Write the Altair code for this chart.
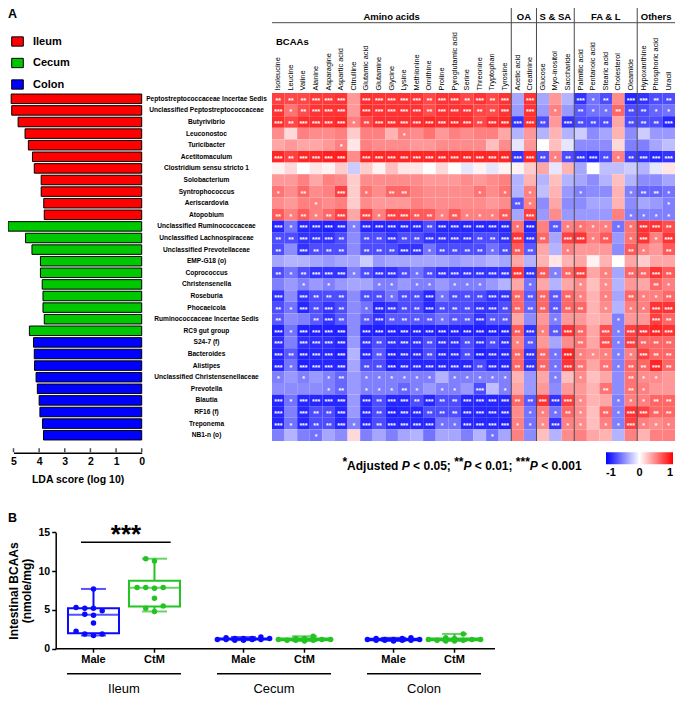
import altair as alt
import numpy as np
import pandas as pd

FONT = "Liberation Sans"
W, H = 670, 686

# ---------------- data : panel A ----------------
genera = [
    "Peptostreptococcaceae Incertae Sedis", "Unclassified Peptostreptococcaceae", "Butyrivibrio",
    "Leuconostoc", "Turicibacter", "Acetitomaculum", "Clostridium sensu stricto 1", "Solobacterium",
    "Syntrophococcus", "Aeriscardovia", "Atopobium",
    "Unclassified Ruminococcaceae", "Unclassified Lachnospiraceae", "Unclassified Prevotellaceae",
    "EMP-G18 (o)", "Coprococcus", "Christensenella", "Roseburia", "Phocaeicola",
    "Ruminococcaceae Incertae Sedis", "RC9 gut group",
    "S24-7 (f)", "Bacteroides", "Alistipes", "Unclassified Christensenellaceae", "Prevotella",
    "Blautia", "RF16 (f)", "Treponema", "NB1-n (o)",
]
genus_site = ["Ileum"] * 11 + ["Cecum"] * 10 + ["Colon"] * 9
lda_score = [5.09, 5.07, 4.82, 4.55, 4.42, 4.26, 4.19, 3.92, 3.92, 3.82, 3.80,
             5.21, 4.53, 4.28, 3.95, 3.95, 3.88, 3.85, 3.85, 3.80, 4.38,
             4.22, 4.19, 4.18, 4.12, 4.07, 4.00, 3.97, 3.87, 3.83]
sites = ["Ileum", "Cecum", "Colon"]
site_colors = ["#ff0000", "#00c800", "#0000ff"]
lda_ticks = [0, 1, 2, 3, 4, 5]

metabolites = [
    "Isoleucine", "Leucine", "Valine", "Alanine", "Asparagine", "Aspartic acid", "Citrulline",
    "Glutamic acid", "Glutamine", "Glycine", "Lysine", "Methionine", "Ornithine", "Proline",
    "Pyroglutamic acid", "Serine", "Threonine", "Tryptophan", "Tyrosine",
    "Acetic acid", "Creatinine",
    "Glucose", "Myo-inositol", "Saccharide",
    "Palmitic acid", "Pentanoic acid", "Stearic acid", "Cholesterol", "Oleamide",
    "Hypoxanthine", "Phosphoric acid", "Uracil",
]
group_names = ["Amino acids", "OA", "S & SA", "FA & L", "Others"]
group_sizes = [19, 2, 3, 5, 3]

# correlation coefficients x100, one row per genus (32 metabolites)
corr_x100 = [
    [75,72,72,78,78,80,40,82,80,80,80,80,72,80,80,72,80,72,80, -35,80,-35,40,-30,-80,-55,-70,45,-85,-80,-70,-70],
    [80,55,70,80,80,80,40,82,80,80,80,80,70,80,80,80,72,70,80, -40,80,-40,50,-40,-65,-55,-55,60,-70,-70,-60,-55],
    [82,72,82,82,82,85,50,72,82,82,82,82,85,82,85,82,72,82,85, -80,82,-70,40,-80,-70,-70,-70,35,-70,-70,-70,-85],
    [45,15,50,45,45,50,20,50,50,30,50,45,55,40,50,45,50,50,35, -30,40,-30,30,-30,-20,-45,-35,30,-45,-20,-40,-40],
    [35,40,35,35,40,50,10,50,45,45,45,40,40,45,45,45,45,25,45, -10,40,0,25,-10,-45,-45,-45,15,-50,-50,-35,-25],
    [85,75,85,85,88,88,45,85,85,85,85,85,85,85,85,85,85,85,85, -80,85,-70,50,-70,-80,-85,-70,50,-75,-80,-85,-80],
    [5,15,0,10,5,20,-20,20,5,25,10,10,0,15,0,-10,5,-10,5, 5,20,35,-10,30,-35,0,-25,-25,-20,-30,-10,10],
    [40,40,50,35,50,45,20,45,45,45,45,45,40,40,40,45,40,45,50, -30,30,-30,25,-30,-35,-45,-30,25,-30,-45,-45,-35],
    [55,45,60,45,50,75,20,55,45,60,60,50,45,45,45,45,55,45,55, -30,50,-25,30,-40,-50,-45,-45,30,-50,-60,-60,-55],
    [45,40,50,50,45,50,20,45,40,40,40,50,45,45,45,45,45,40,45, -65,50,-45,35,-45,-45,-35,-35,30,-45,-35,-40,-50],
    [65,50,65,50,60,75,35,75,50,75,75,65,65,50,65,50,50,50,65, -35,75,-40,45,-40,-40,-40,-40,50,-50,-50,-50,-50],
    [-85,-55,-85,-85,-88,-85,-50,-85,-85,-85,-85,-85,-70,-85,-85,-85,-85,-85,-85, 55,-85,50,-65,50,55,50,50,-55,55,80,80,70],
    [-70,-70,-80,-80,-80,-70,-45,-70,-70,-80,-70,-70,-80,-80,-80,-80,-70,-70,-80, 80,-80,60,-35,75,80,50,65,-40,55,80,50,80],
    [-70,-45,-80,-70,-70,-70,-45,-70,-70,-70,-80,-80,-55,-70,-70,-70,-70,-55,-70, 65,-65,35,-30,50,40,40,40,-45,65,50,40,65],
    [-35,-30,-30,-35,-40,-35,-35,-20,-40,-35,-35,-35,-35,-35,-40,-35,-35,-30,-35, 35,-30,30,10,30,35,5,30,0,35,20,35,35],
    [-70,-55,-70,-80,-80,-80,-50,-70,-80,-80,-70,-55,-70,-80,-80,-80,-80,-80,-80, 80,-80,65,-50,60,75,35,50,-35,60,60,80,65],
    [-50,-40,-50,-40,-50,-40,-35,-35,-50,-50,-40,-50,-50,-40,-50,-50,-50,-40,-30, 35,-55,35,-30,35,45,25,45,-30,40,35,60,50],
    [-80,-45,-80,-70,-70,-70,-45,-70,-70,-55,-70,-70,-85,-55,-70,-70,-70,-80,-80, 60,-65,60,-65,60,50,30,50,-35,60,50,50,60],
    [-70,-55,-85,-70,-80,-70,-45,-55,-85,-80,-70,-70,-85,-70,-70,-70,-80,-80,-70, 60,-60,60,-65,60,60,30,45,-30,50,50,80,80],
    [-65,-45,-50,-65,-80,-65,-45,-65,-80,-65,-65,-65,-65,-55,-65,-65,-80,-65,-65, 35,-45,40,-50,40,40,30,35,-50,40,40,75,60],
    [-88,-55,-88,-88,-88,-88,-45,-88,-88,-88,-88,-88,-88,-88,-88,-88,-88,-88,-88, 65,-80,50,-65,80,60,35,70,-50,75,80,85,80],
    [-82,-50,-82,-82,-82,-85,-40,-82,-70,-82,-82,-82,-70,-82,-82,-70,-82,-70,-82, 50,-65,40,-35,45,55,35,70,-50,75,60,60,60],
    [-85,-65,-88,-85,-85,-88,-30,-85,-65,-88,-85,-85,-70,-85,-85,-70,-88,-85,-85, 60,-80,60,-55,85,50,45,50,-50,50,75,60,60],
    [-85,-55,-88,-85,-85,-85,-35,-70,-70,-88,-85,-85,-85,-85,-85,-85,-70,-85,-85, 60,-80,60,-55,80,55,35,55,-50,60,60,85,60],
    [-50,-40,-50,-40,-50,-60,-40,-50,-50,-50,-50,-50,-50,-30,-50,-50,-50,-50,-50, 30,-40,35,-50,25,45,25,35,-45,55,45,45,40],
    [-45,-45,-45,-45,-50,-60,-40,-50,-50,-50,-60,-50,-40,-50,-50,-40,-70,-25,-50, 35,-40,40,-45,40,40,30,55,-45,55,50,40,40],
    [-85,-55,-85,-85,-85,-85,-40,-85,-70,-85,-85,-70,-85,-70,-70,-85,-85,-85,-85, 60,-65,80,-80,75,45,30,35,-50,50,50,60,60],
    [-85,-50,-85,-70,-70,-85,-40,-85,-70,-88,-85,-85,-70,-70,-70,-85,-85,-85,-85, 45,-55,50,-55,60,45,25,60,-50,80,75,60,60],
    [-85,-55,-85,-70,-70,-85,-50,-85,-70,-85,-85,-85,-85,-55,-55,-85,-85,-85,-88, 50,-55,45,-80,50,45,25,50,-50,75,50,45,50],
    [-50,-30,-50,-55,-35,-45,15,-50,-35,-50,-35,-30,-55,-35,-35,-50,-30,-55,-35, 50,-45,25,-30,45,50,35,30,-30,50,30,50,50],
]
# number of significance stars per cell (0-3)
star_codes = [
    "2223330333332332323" + "0300031203322",
    "3123330333332333223" + "0301021122211",
    "3233331233333333233" + "3320322202223",
    "0000000000100000000" + "0000000000000",
    "0000010000000000000" + "0000000000000",
    "3233330333333333333" + "3321233212333",
    "0000000000000000000" + "0000000000000",
    "0000000000000000000" + "0000000000000",
    "1020030102200000101" + "0100010001221",
    "0001000000000000000" + "2100000000001",
    "2121230313322121112" + "0300000001111",
    "3133331333332333333" + "1302111111332",
    "2233320223223333223" + "3320331201313",
    "2032220222331222212" + "2200100002102",
    "0000000000000000000" + "0000000000000",
    "2123331233212333333" + "3321230102232",
    "0010100011011011100" + "0100010100021",
    "3032220221223122233" + "2222210102112",
    "2132320133223222332" + "2222220101133",
    "2002320232222122322" + "0001000010032",
    "3133330333333333333" + "2312320313333",
    "3033330323332332323" + "1200020313222",
    "3233330323332332333" + "2321311111322",
    "3133330223333333233" + "2321320212232",
    "1010120111111011111" + "0001010002110",
    "0000120111210110301" + "0000000202100",
    "3133330323323223333" + "2233310011122",
    "3032230323332223333" + "0111210213322",
    "3132231323333113333" + "1113110113111",
    "0001000000000000010" + "0000000000000",
]

# ---------------- data : panel B ----------------
sexes = ["Male", "CtM"]
sex_colors = ["#0a0aff", "#22c322"]
ileum_male = [7.7, 5.2, 5.2, 4.9, 5.3, 4.3, 4.45, 3.3, 2.25, 1.9, 1.9, 1.7]
ileum_ctm = [11.6, 11.3, 7.9, 7.8, 7.9, 7.9, 6.5, 5.5, 5.2, 4.8]
cecum_male = [1.2, 1.3, 1.1, 1.4, 1.2, 1.3, 1.5, 1.2, 1.3, 1.1, 1.2, 1.3]
cecum_ctm = [1.1, 1.2, 1.0, 1.3, 1.2, 1.6, 1.1, 1.2, 1.3, 1.1]
colon_male = [1.1, 1.2, 1.3, 1.1, 1.4, 1.2, 1.1, 1.2, 1.3, 1.0, 1.2, 1.1]
colon_ctm = [1.0, 1.1, 1.2, 1.9, 1.3, 1.1, 1.2, 1.4, 1.0, 1.2]
bcaa_ticks = [0, 5, 10, 15]

# ---------------- layout constants (pixels inside the single view) ----------------
HX = (264, 667)        # heatmap x extent
RY = (85, 433)         # rows extent (bars + heatmap)
LDA_X = (133.7, 5.5)   # x of LDA = 0 and LDA = 5
LDA_AX_Y = 444.7
BX = (55, 477)         # panel B category extent
BY = (640.7, 524.3)    # panel B y of 0 and 15
B_AX_X = 47.7
N_SLOTS = 7
LINE = "#4a4a4a"

one = pd.DataFrame({"k": [0]})


def text_at(text, x, y, size, weight="bold", align="left", baseline="alphabetic", style="normal"):
    return alt.Chart(one).mark_text(
        text=text, fontSize=size, fontWeight=weight, align=align, baseline=baseline,
        fontStyle=style, color="black", font=FONT,
    ).encode(x=alt.value(x), y=alt.value(y))


def rule_at(x1, x2, y1, y2, width=1, color="black"):
    return alt.Chart(one).mark_rule(strokeWidth=width, color=color).encode(
        x=alt.value(x1), x2=alt.value(x2), y=alt.value(y1), y2=alt.value(y2))


# ---------------- LDA bar chart ----------------
bar_df = pd.DataFrame({"genus": genera, "site": genus_site, "lda": lda_score})
x_lda_scale = alt.Scale(domain=[0, 5], range=list(LDA_X), nice=False, zero=False)
x_lda_axis = alt.Axis(
    orient="bottom", offset=LDA_AX_Y - H, values=lda_ticks, format="d", tickSize=0, ticks=False,
    labelPadding=4, labelFontSize=10.5, labelFontWeight="bold", labelColor="black", labelFlush=False,
    domainColor="black", domainWidth=1.5, grid=False,
    title="LDA score (log 10)", titleFontSize=10.5, titleFontWeight="bold", titleColor="black", titlePadding=7,
)
y_bar_scale = alt.Scale(domain=genera, range=list(RY), paddingInner=0.18, paddingOuter=0.09)
y_bar_axis = alt.Axis(
    orient="left", offset=-198, labelAlign="center", labelBaseline="middle", labelPadding=0,
    ticks=False, tickSize=0, domain=False, labelFontSize=6.6, labelFontWeight="bold",
    labelColor="black", labelLimit=400, labelOverlap=False, title=None,
)
site_legend = alt.Legend(
    orient="none", legendX=3, legendY=27, title=None, direction="vertical",
    symbolType="M-1,-0.8H1V0.8H-1Z", symbolSize=135, symbolStrokeColor="black",
    symbolStrokeWidth=1, symbolOpacity=1, labelFontSize=11, labelFontWeight="bold",
    labelColor="black", labelOffset=9, rowPadding=6.5, padding=0,
)
bars = alt.Chart(bar_df).mark_bar(stroke="black", strokeWidth=1, opacity=1).encode(
    x=alt.X("lda:Q", scale=x_lda_scale, axis=x_lda_axis),
    y=alt.Y("genus:N", scale=y_bar_scale, axis=y_bar_axis),
    color=alt.Color("site:N", scale=alt.Scale(domain=sites, range=site_colors), legend=site_legend),
)
lda_tick_marks = alt.Chart(pd.DataFrame({"lda": lda_ticks})).mark_tick(
    orient="vertical", size=4, thickness=1.5, color="black"
).encode(
    x=alt.X("lda:Q", scale=x_lda_scale, axis=x_lda_axis),
    y=alt.value(LDA_AX_Y - 2.5),
)
bar_layer = alt.layer(bars, lda_tick_marks)

# ---------------- heatmap ----------------
rows = []
for i, g in enumerate(genera):
    codes = star_codes[i].ljust(32, "0")
    for j, m in enumerate(metabolites):
        rows.append({"genus": g, "metabolite": m, "r": corr_x100[i][j] / 100.0,
                     "stars": "*" * int(codes[j])})
heat_df = pd.DataFrame(rows)

x_heat_scale = alt.Scale(domain=metabolites, range=list(HX), paddingInner=0, paddingOuter=0)
x_heat_axis = alt.Axis(
    orient="top", offset=-RY[0], labelAngle=-90, labelAlign="left", labelBaseline="middle",
    labelPadding=3, ticks=False, tickSize=0, domain=False, labelFontSize=7.4, labelColor="black",
    labelOverlap=False, labelLimit=200, title=None,
)
y_heat_scale = alt.Scale(domain=genera, range=list(RY), paddingInner=0, paddingOuter=0)
heat_legend = alt.Legend(
    orient="none", legendX=598, legendY=444.3, direction="horizontal", gradientLength=67,
    gradientThickness=12, values=[-1, 0, 1], title=None, labelFontSize=11, labelFontWeight="bold",
    labelColor="black", labelOffset=3, gradientStrokeWidth=0, padding=0,
    labelExpr="'' + datum.value",
)
hx = lambda **kw: alt.X("metabolite:N", scale=x_heat_scale, axis=x_heat_axis, **kw)
hy = alt.Y("genus:N", scale=y_heat_scale, axis=None)

cells = alt.Chart(heat_df).mark_rect().encode(
    x=hx(), y=hy,
    color=alt.Color("r:Q", scale=alt.Scale(domain=[-1, 0, 1], range=["#0000ff", "#ffffff", "#ff0000"],
                                           interpolate="rgb"), legend=heat_legend),
)
star_text = alt.Chart(heat_df).transform_filter("datum.stars != ''").mark_text(
    color="white", fontSize=7, fontWeight="bold", baseline="middle", dy=2, font=FONT
).encode(x=hx(), y=hy, text="stars:N")

starts = np.cumsum([0] + group_sizes[:-1])
sep_df = pd.DataFrame({"metabolite": [metabolites[s] for s in starts[1:]]})
separators = alt.Chart(sep_df).mark_rule(color=LINE, strokeWidth=1).encode(
    x=hx(bandPosition=0), y=alt.value(0), y2=alt.value(RY[1]))
title_df = pd.DataFrame({
    "metabolite": [metabolites[s + n // 2] for s, n in zip(starts, group_sizes)],
    "group": group_names,
    "odd": [n % 2 == 1 for n in group_sizes],
})
titles_odd = alt.Chart(title_df[title_df["odd"]]).mark_text(
    fontSize=9.5, fontWeight="bold", baseline="middle", color="black", font=FONT
).encode(x=hx(bandPosition=0.5), y=alt.value(8.5), text="group:N")
titles_even = alt.Chart(title_df[~title_df["odd"]]).mark_text(
    fontSize=9.5, fontWeight="bold", baseline="middle", color="black", font=FONT
).encode(x=hx(bandPosition=0), y=alt.value(8.5), text="group:N")
group_line = alt.Chart(one).mark_rule(color=LINE, strokeWidth=1).encode(
    x=alt.value(HX[0]), x2=alt.value(HX[1]), y=alt.value(14.7))
bcaa_df = pd.DataFrame({"metabolite": [metabolites[0]], "label": ["BCAAs"]})
bcaa_label = alt.Chart(bcaa_df).mark_text(
    fontSize=9.5, fontWeight="bold", align="left", baseline="middle", dx=4, color="black", font=FONT
).encode(x=hx(bandPosition=0), y=alt.value(33.7), text="label:N")

heat_layer = alt.layer(cells, star_text, separators, group_line, titles_odd, titles_even, bcaa_label)

# ---------------- significance note ----------------
EMW = {"*": 0.389, "A": 0.722, "d": 0.611, "j": 0.278, "u": 0.611, "s": 0.556, "t": 0.333,
       "e": 0.556, " ": 0.278, "P": 0.667, "<": 0.584, "0": 0.556, ".": 0.278, "5": 0.556,
       ";": 0.333, "1": 0.556}
NOTE_SIZE = 12
segments = [("*", True, False), ("Adjusted ", False, False), ("P", False, True), (" < 0.05; ", False, False),
            ("**", True, False), ("P", False, True), (" < 0.01; ", False, False),
            ("***", True, False), ("P", False, True), (" < 0.001", False, False)]
seg_w = [sum(EMW.get(c, 0.556) for c in s) * NOTE_SIZE for s, _, _ in segments]
note_x = 454 - sum(seg_w) / 2
note_layers = []
for (s, sup, ital), w in zip(segments, seg_w):
    lead = (len(s) - len(s.lstrip())) * EMW[" "] * NOTE_SIZE
    note_layers.append(text_at(s.strip(), note_x + lead, 458.3 if sup else 461.7, NOTE_SIZE,
                               style="italic" if ital else "normal"))
    note_x += w

# ---------------- panel B ----------------
def swarm_slots(vals, px_per_unit=7.76, min_gap=5.5):
    order = [3, 2, 4, 1, 5, 0, 6]
    placed, slots = [], [0] * len(vals)
    for idx in sorted(range(len(vals)), key=lambda k: vals[k]):
        v = vals[idx]
        best, best_c = None, None
        for s in order:
            c = sum(1 for ps, pv in placed if ps == s and abs(pv - v) * px_per_unit < min_gap)
            if c == 0:
                best = s
                break
            if best_c is None or c < best_c:
                best, best_c = s, c
        placed.append((best, v))
        slots[idx] = best
    return slots


groups_b = [("Ileum", "Male", ileum_male), ("Ileum", "CtM", ileum_ctm),
            ("Cecum", "Male", cecum_male), ("Cecum", "CtM", cecum_ctm),
            ("Colon", "Male", colon_male), ("Colon", "CtM", colon_ctm)]
pt_rows, st_rows = [], []
for site, sex, vals in groups_b:
    for v, k in zip(vals, swarm_slots(vals)):
        pt_rows.append({"site": site, "sex": sex, "value": v, "slot": f"{sex}{k}"})
    a = np.asarray(vals, float)
    q1, med, q3 = np.percentile(a, [25, 50, 75], method="weibull")
    st_rows.append({"site": site, "sex": sex, "lo": a.min(), "q1": q1, "med": med, "q3": q3,
                    "hi": a.max(), "center": f"{sex}{N_SLOTS // 2}"})
pts_df = pd.DataFrame(pt_rows)
stat_df = pd.DataFrame(st_rows)

xB_scale = alt.Scale(domain=sites, range=list(BX), paddingInner=0.187, paddingOuter=0)
xo_scale = alt.Scale(domain=[f"{s}{k}" for s in sexes for k in range(N_SLOTS)],
                     paddingInner=0, paddingOuter=0)
yB_scale = alt.Scale(domain=[0, 15], range=list(BY), nice=False, zero=True)
yB_axis = alt.Axis(
    orient="left", offset=-B_AX_X, values=bcaa_ticks, tickSize=4, tickWidth=1.5, tickColor="black",
    domainColor="black", domainWidth=1.5, labelFontSize=10.5, labelFontWeight="bold",
    labelColor="black", labelPadding=2, grid=False,
    title=["Intestinal BCAAs", "(nmole/mg)"], titleFontSize=12, titleFontWeight="bold",
    titleColor="black", titlePadding=5, titleLineHeight=12.5,
)
sex_scale = alt.Scale(domain=sexes, range=sex_colors)
xB = alt.X("site:N", scale=xB_scale, axis=None)
xo_c = alt.XOffset("center:N", scale=xo_scale)
col = alt.Color("sex:N", scale=sex_scale, legend=None)


def yq(f):
    return alt.Y(f"{f}:Q", scale=yB_scale, axis=yB_axis)


whisk = alt.Chart(stat_df).mark_rule(strokeWidth=2).encode(x=xB, xOffset=xo_c, y=yq("lo"), y2="hi", color=col)
box = alt.Chart(stat_df).mark_bar(fill="white", strokeWidth=2, size=51).encode(
    x=xB, xOffset=xo_c, y=yq("q1"), y2="q3", stroke=alt.Stroke("sex:N", scale=sex_scale, legend=None))
median = alt.Chart(stat_df).mark_tick(size=51, thickness=2, orient="horizontal").encode(
    x=xB, xOffset=xo_c, y=yq("med"), color=col)
cap_lo = alt.Chart(stat_df).mark_tick(size=25, thickness=2, orient="horizontal").encode(
    x=xB, xOffset=xo_c, y=yq("lo"), color=col)
cap_hi = alt.Chart(stat_df).mark_tick(size=25, thickness=2, orient="horizontal").encode(
    x=xB, xOffset=xo_c, y=yq("hi"), color=col)
dots = alt.Chart(pts_df).mark_circle(size=30, opacity=1).encode(
    x=xB, xOffset=alt.XOffset("slot:N", scale=xo_scale), y=yq("value"), color=col)
x_ticks_b = alt.Chart(stat_df).mark_rule(strokeWidth=1.5, color="black").encode(
    x=xB, xOffset=xo_c, y=alt.value(BY[0]), y2=alt.value(BY[0] + 4))
sex_labels = alt.Chart(stat_df).mark_text(fontSize=11, fontWeight="bold", baseline="middle",
                                           color="black", font=FONT).encode(
    x=xB, xOffset=xo_c, y=alt.value(651.7), text="sex:N")
site_df = pd.DataFrame({"site": sites})
site_lines = alt.Chart(site_df).mark_bar(size=114, color="black").encode(
    x=xB, y=alt.value(665), y2=alt.value(666.5))
site_labels = alt.Chart(site_df).mark_text(fontSize=13, baseline="middle", color="black", font=FONT).encode(
    x=xB, y=alt.value(681), text="site:N")
panel_b = alt.layer(whisk, box, median, cap_lo, cap_hi, x_ticks_b, dots, sex_labels, site_lines, site_labels)

annotations = [
    text_at("A", 0, 0, 12.5, baseline="top"),
    text_at("B", 0, 504, 12.5, baseline="top"),
    rule_at(B_AX_X, 487, BY[0], BY[0], width=1.5),
    rule_at(73, 162.7, 534.3, 534.3, width=1.5),
    text_at("***", 118, 535, 26, align="center"),
] + note_layers

chart = alt.layer(bar_layer, heat_layer, panel_b, *annotations).resolve_scale(
    x="independent", y="independent", color="independent", stroke="independent",
    xOffset="independent",
).properties(
    width=W, height=H, autosize=alt.AutoSizeParams(type="none"), padding=0,
).configure(font=FONT).configure_view(stroke=None)

chart.save("out.html", embed_options={"renderer": "svg", "actions": False})
